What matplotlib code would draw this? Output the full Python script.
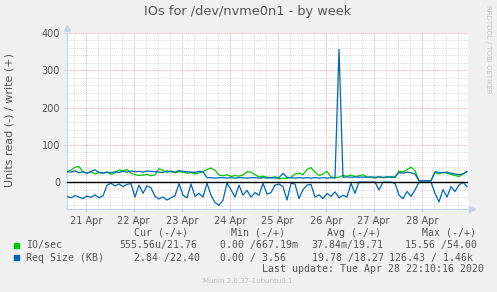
import numpy as np
import matplotlib
matplotlib.use("Agg")
import matplotlib.pyplot as plt
from matplotlib.patches import Rectangle

# samples every 2 hours, hours counted from 20 Apr 00:00
t_debut = 14.65
pas = 2.0

io_write = [29, 32, 40, 42, 27, 24, 28, 22, 26, 24, 27, 21, 25, 33, 30, 34, 24, 20, 18, 19,
            21, 17, 20, 36, 32, 26, 30, 25, 28, 27, 24, 26, 22, 25, 28, 34, 38, 32, 19, 17,
            20, 15, 18, 16, 19, 28, 27, 20, 14, 16, 13, 12, 15, 9, 11, 10, 13, 22, 24, 20,
            34, 39, 27, 18, 22, 29, 14, 12, 13, 18, 16, 19, 15, 17, 20, 14, 13, 11, 14, 12,
            13, 15, 12, 30, 27, 34, 40, 31, 4, 4, 4, 4, 26, 22, 27, 24, 21, 18, 15, 22, 28]

req_write = [28, 27, 30, 25, 28, 24, 29, 33, 26, 24, 27, 25, 28, 26, 29, 27, 30, 28, 29, 27,
             30, 29, 28, 27, 26, 30, 28, 27, 31, 29, 28, 27, 26, 29, 28, 12, 12, 11, 12, 12,
             11, 12, 11, 12, 12, 11, 12, 12, 11, 12, 11, 12, 11, 12, 24, 13, 12, 11, 12, 11,
             12, 11, 12, 11, 12, 11, 12, 11, 356, 13, 14, 13, 14, 13, 14, 13, 14, 13, 14, 13,
             14, 13, 14, 26, 24, 27, 25, 22, 4, 4, 4, 4, 28, 26, 25, 27, 24, 22, 20, 22, 29]

req_read = [-38, -42, -36, -40, -44, -37, -41, -34, -42, -37, -8, -3, -10, -5, -12, -6, -4, -40, -8, -30,
            -10, -15, -38, -45, -40, -48, -42, -36, -4, -35, -42, -5, -38, -30, -40, -3, -35, -55, -62, -48,
            -3, -20, -40, -8, -35, -22, -40, -28, -35, -3, -32, -28, -8, -5, -12, -48, -3, -5, -44, -20,
            -8, -6, -40, -34, -44, -30, -38, -26, -42, -35, -40, -3, -30, 0, 0, 0, 0, 0, -21, 0,
            0, 0, -3, -35, -44, -25, -38, -21, 0, 0, 0, 0, -30, -53, -20, -40, -12, -25, -8, 0, -12]

jours = [24, 48, 72, 96, 120, 144, 168, 192]
etiquettes = ['21 Apr', '22 Apr', '23 Apr', '24 Apr', '25 Apr', '26 Apr', '27 Apr', '28 Apr']

vert = '#00CC00'
bleu = '#0066B3'
gris_txt = '#555555'

W, H = 497, 292
fig = plt.figure(figsize=(W / 100, H / 100), dpi=100, facecolor='#F0F0F0')
ax = fig.add_axes([67 / W, 1 - 209 / H, (468 - 67) / W, (209 - 33) / H])
ax.set_facecolor('white')

t = t_debut + pas * np.arange(len(io_write))

# grille
for h in np.arange(0, 240, 6):
    if h % 24:
        ax.axvline(h, color='#DADADA', lw=0.7, ls=(0, (1, 1)), zorder=0)
for h in jours:
    ax.axvline(h, color='#F2A8A8', lw=0.7, ls=(0, (1, 1)), zorder=0)
for v in range(-60, 401, 20):
    if v % 100:
        ax.axhline(v, color='#DADADA', lw=0.7, ls=(0, (1, 1)), zorder=0)
for v in [100, 200, 300, 400]:
    ax.axhline(v, color='#F2A8A8', lw=0.7, ls=(0, (1, 1)), zorder=0)

ax.plot(t, io_write, color=vert, lw=0.9, zorder=3)
ax.plot(t, req_write, color=bleu, lw=0.9, zorder=3)
ax.plot(t, req_read, color=bleu, lw=0.9, zorder=3)
ax.axhline(0, color='black', lw=1.0, zorder=4)

ax.set_xlim(14.65, 215.15)
ax.set_ylim(-72, 400)
ax.set_xticks(jours)
ax.set_xticklabels(etiquettes)
ax.set_yticks([0, 100, 200, 300, 400])
ax.tick_params(colors='#C8D0F0', labelcolor=gris_txt, labelsize=7, length=2, pad=3)

for s in ['top', 'right']:
    ax.spines[s].set_visible(False)
for s in ['left', 'bottom']:
    ax.spines[s].set_color('#C8D0F0')

# fleches des axes
ax.plot([0], [1.03], marker='^', color='#C8D0F0', ms=4, transform=ax.transAxes, clip_on=False)
ax.plot([1.01], [0], marker='>', color='#C8D0F0', ms=4, transform=ax.transAxes, clip_on=False)

fig.text(248 / W, 1 - 12 / H, 'IOs for /dev/nvme0n1 - by week', ha='center', va='center',
         fontsize=9.3, color=gris_txt)
fig.text(10 / W, 1 - 120 / H, 'Units read (-) / write (+)', rotation=90, ha='center', va='center',
         fontsize=8, color=gris_txt)
fig.text(488 / W, 1 - 5 / H, 'RRDTOOL / TOBI OETIKER', rotation=270, ha='center', va='top',
         fontsize=5, color='#C4C4C4')

# legende
mono = dict(family='DejaVu Sans Mono', fontsize=7.1, color=gris_txt, va='center', ha='left')
y_h, y1, y2, y3 = 232.7, 245, 257.7, 268.7
for x, s in [(134, 'Cur (-/+)'), (230.7, 'Min (-/+)'), (327.3, 'Avg (-/+)'), (421.7, 'Max (-/+)')]:
    fig.text(x / W, 1 - y_h / H, s, **mono)
fig.add_artist(Rectangle((14 / W, 1 - 247.5 / H), 5 / W, 5 / H, color=vert, transform=fig.transFigure))
fig.add_artist(Rectangle((14 / W, 1 - 260 / H), 5 / W, 5 / H, color=bleu, transform=fig.transFigure))
fig.text(26 / W, 1 - y1 / H, 'IO/sec', **mono)
fig.text(26 / W, 1 - y2 / H, 'Req Size (KB)', **mono)
for x, s in [(119.3, '555.56u/21.76'), (220, '0.00 /667.19m'), (311.7, '37.84m/19.71'), (405, '15.56 /54.00')]:
    fig.text(x / W, 1 - y1 / H, s, **mono)
for x, s in [(134, '2.84 /22.40'), (220, '0.00 / 3.56'), (311.7, '19.78 /18.27'), (389.3, '126.43 / 1.46k')]:
    fig.text(x / W, 1 - y2 / H, s, **mono)
fig.text(261.7 / W, 1 - y3 / H, 'Last update: Tue Apr 28 22:10:16 2020', **mono)
fig.text(248 / W, 1 - 281 / H, 'Munin 2.0.37-1ubuntu0.1', ha='center', va='center',
         fontsize=5, color='#BBBBBB')

fig.savefig('out.png', dpi=100, facecolor=fig.get_facecolor())
